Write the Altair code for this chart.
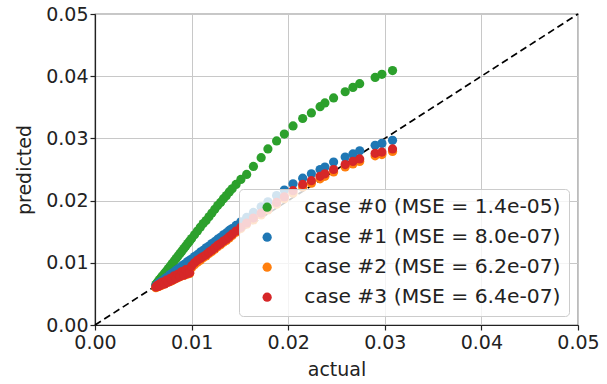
import altair as alt
import pandas as pd

# Shared x values (actual) and the predicted values of each case
actual = [
    0.0063, 0.0064, 0.0065, 0.0066, 0.0067, 0.0068, 0.0069, 0.0070,
    0.0072, 0.0074, 0.0076, 0.0078, 0.0080, 0.0082, 0.0084, 0.0086, 0.0088,
    0.0090, 0.0092, 0.0094, 0.0096, 0.0098, 0.0100,
    0.0103, 0.0106, 0.0109, 0.0112, 0.0115, 0.0118, 0.0121, 0.0124, 0.0127,
    0.0130, 0.0133, 0.0136, 0.0139, 0.0142,
    0.0146, 0.0151, 0.0157, 0.0164, 0.0172, 0.0179, 0.0188, 0.0196, 0.0205,
    0.0215, 0.0224, 0.0233, 0.0238, 0.0247, 0.0259, 0.0267, 0.0274, 0.0290,
    0.0297, 0.0308,
]

pred_case0 = [
    0.0065, 0.0067, 0.0069, 0.0071, 0.0073, 0.0075, 0.0077, 0.0079,
    0.0083, 0.0087, 0.0091, 0.0095, 0.0099, 0.0103, 0.0107, 0.0111, 0.0115,
    0.0119, 0.0123, 0.0127, 0.0131, 0.0135, 0.0139,
    0.0145, 0.0151, 0.0157, 0.0163, 0.0168, 0.0174, 0.0180, 0.0186, 0.0192,
    0.0197, 0.0203, 0.0208, 0.0214, 0.0219,
    0.0226, 0.0234, 0.0242, 0.0255, 0.0269, 0.0283, 0.0296, 0.0307, 0.0320,
    0.0332, 0.0341, 0.0351, 0.0357, 0.0365, 0.0375, 0.0382, 0.0388, 0.0398,
    0.0403, 0.0409,
]

pred_case1 = [
    0.0063, 0.0064, 0.0066, 0.0067, 0.0068, 0.0069, 0.0070, 0.0071,
    0.0074, 0.0076, 0.0078, 0.0081, 0.0083, 0.0085, 0.0088, 0.0090, 0.0092,
    0.0095, 0.0097, 0.0099, 0.0102, 0.0104, 0.0106,
    0.0110, 0.0113, 0.0117, 0.0120, 0.0124, 0.0127, 0.0131, 0.0134, 0.0138,
    0.0141, 0.0145, 0.0148, 0.0152, 0.0155,
    0.0160, 0.0166, 0.0173, 0.0181, 0.0190, 0.0198, 0.0208, 0.0217, 0.0227,
    0.0236, 0.0243, 0.0250, 0.0254, 0.0262, 0.0270, 0.0275, 0.0280, 0.0289,
    0.0292, 0.0297,
]

pred_case2 = [
    0.0060, 0.0061, 0.0062, 0.0062, 0.0063, 0.0064, 0.0064, 0.0065,
    0.0066, 0.0068, 0.0069, 0.0070, 0.0072, 0.0073, 0.0075, 0.0076, 0.0078,
    0.0079, 0.0080, 0.0081, 0.0082, 0.0083, 0.0092,
    0.0097, 0.0101, 0.0104, 0.0108, 0.0111, 0.0115, 0.0118, 0.0122, 0.0126,
    0.0129, 0.0133, 0.0136, 0.0140, 0.0144,
    0.0149, 0.0155, 0.0162, 0.0169, 0.0177, 0.0185, 0.0194, 0.0203, 0.0212,
    0.0222, 0.0228, 0.0235, 0.0239, 0.0246, 0.0254, 0.0259, 0.0263, 0.0272,
    0.0274, 0.0279,
]

pred_case3 = [
    0.0061, 0.0063, 0.0062, 0.0065, 0.0063, 0.0067, 0.0065, 0.0069,
    0.0066, 0.0072, 0.0069, 0.0075, 0.0072, 0.0079, 0.0075, 0.0082, 0.0078,
    0.0086, 0.0080, 0.0089, 0.0083, 0.0084, 0.0095,
    0.0100, 0.0104, 0.0107, 0.0110, 0.0113, 0.0117, 0.0120, 0.0124, 0.0128,
    0.0131, 0.0135, 0.0138, 0.0142, 0.0146,
    0.0151, 0.0157, 0.0164, 0.0172, 0.0180, 0.0188, 0.0197, 0.0206, 0.0216,
    0.0226, 0.0232, 0.0239, 0.0243, 0.0250, 0.0258, 0.0263, 0.0267, 0.0276,
    0.0278, 0.0283,
]

case_labels = [
    "case #0 (MSE = 1.4e-05)",
    "case #1 (MSE = 8.0e-07)",
    "case #2 (MSE = 6.2e-07)",
    "case #3 (MSE = 6.4e-07)",
]
case_colors = ["#2ca02c", "#1f77b4", "#ff7f0e", "#d62728"]

tick_values = [0.0, 0.01, 0.02, 0.03, 0.04, 0.05]
diag_ends = [0.0, 0.05]

FONT = "DejaVu Sans"
TEXT = "#222222"

records = []
for k, (label, preds) in enumerate(
    zip(case_labels, [pred_case0, pred_case1, pred_case2, pred_case3])
):
    for a, p in zip(actual, preds):
        records.append({"actual": a, "predicted": p, "case": label, "k": k})
points_df = pd.DataFrame(records)
diag_df = pd.DataFrame({"actual": diag_ends, "predicted": diag_ends})

x_scale = alt.Scale(domain=[0, 0.05], nice=False, zero=False)
y_scale = alt.Scale(domain=[0, 0.05], nice=False, zero=False)

x_axis = alt.Axis(
    values=tick_values, format=".2f", title="actual",
    titlePadding=8, labelPadding=3, labelFlush=False,
)
y_axis = alt.Axis(
    values=tick_values, format=".2f", title="predicted",
    titlePadding=11, labelPadding=2, labelFlush=False,
)

diagonal = alt.Chart(diag_df).mark_line(
    color="black", strokeDash=[7, 4], strokeWidth=1.7
).encode(
    x=alt.X("actual:Q", scale=x_scale, axis=x_axis),
    y=alt.Y("predicted:Q", scale=y_scale, axis=y_axis),
)

points = alt.Chart(points_df).mark_circle(size=85, opacity=1).encode(
    x=alt.X("actual:Q", scale=x_scale, axis=x_axis),
    y=alt.Y("predicted:Q", scale=y_scale, axis=y_axis),
    color=alt.Color(
        "case:N",
        scale=alt.Scale(domain=case_labels, range=case_colors),
        legend=alt.Legend(
            title=None,
            orient="bottom-right",
            offset=9,
            fillColor="rgba(255,255,255,0.8)",
            strokeColor="#cccccc",
            cornerRadius=4,
            padding=8,
            labelFont=FONT,
            labelFontSize=20.3,
            labelColor=TEXT,
            labelLimit=500,
            symbolType="circle",
            symbolSize=85,
            symbolStrokeWidth=0,
            symbolOpacity=1,
            symbolOffset=10,
            labelOffset=27,
            rowPadding=9,
        ),
    ),
    order=alt.Order("k:Q"),
)

chart = (
    alt.layer(diagonal, points)
    .properties(
        width=483,
        height=311,
        autosize=alt.AutoSizeParams(type="none"),
        padding={"left": 95, "top": 14, "right": 29, "bottom": 59},
        background="white",
    )
    .configure_view(stroke="#222222", strokeWidth=1.2)
    .configure_axis(
        labelFont=FONT,
        labelFontSize=19,
        labelColor=TEXT,
        titleFont=FONT,
        titleFontSize=19,
        titleFontWeight="normal",
        titleColor=TEXT,
        domainColor="#222222",
        domainWidth=1.2,
        tickColor="#222222",
        tickSize=5,
        tickWidth=1.2,
        gridColor="#c8c8c8",
        gridWidth=1,
    )
)

chart.save("out.html", embed_options={"renderer": "svg", "actions": False})
